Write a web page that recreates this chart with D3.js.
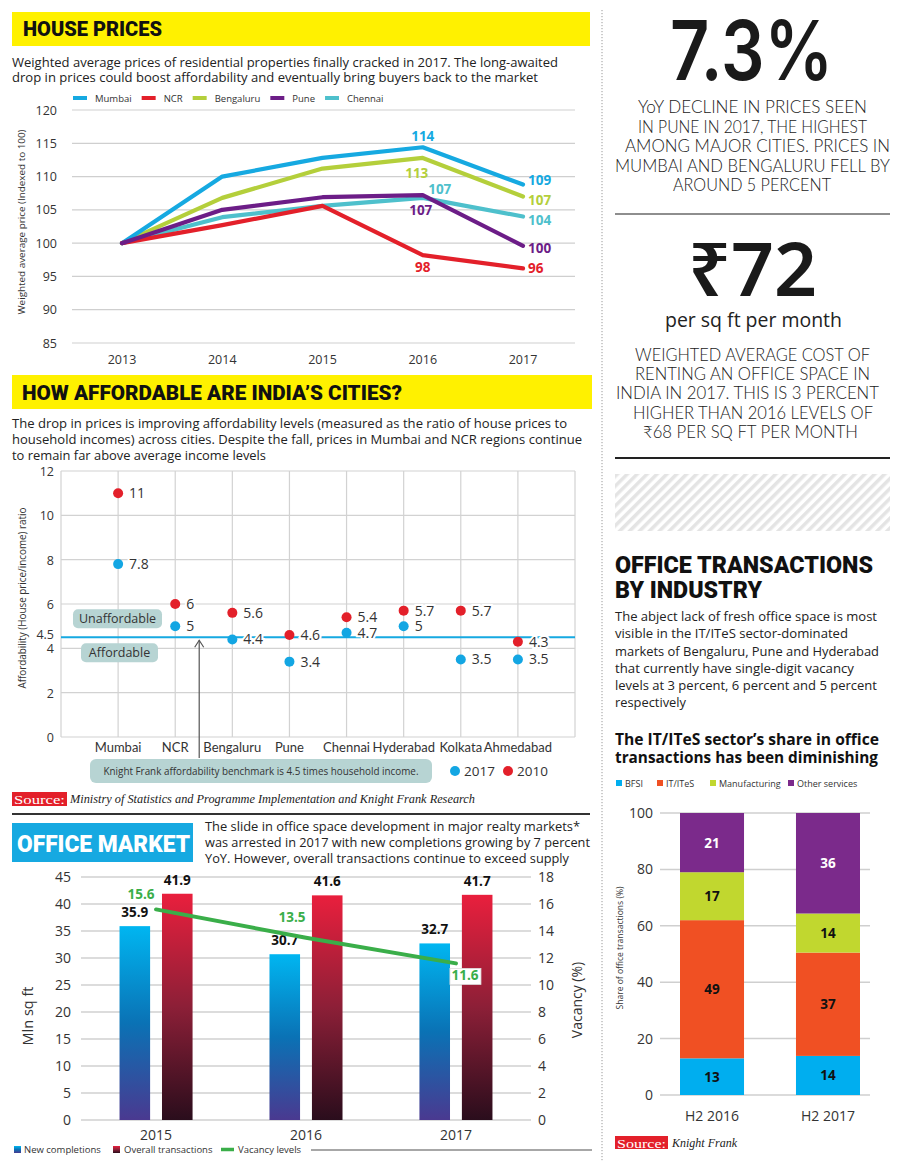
<!DOCTYPE html>
<html>
<head>
<meta charset="utf-8">
<script src="https://cdn.jsdelivr.net/npm/d3@7"></script>
<style>
  body { margin: 0; background: #fff; }
  svg { display: block; }
</style>
</head>
<body>
<div id="chart"></div>
<script>
// ---- house prices (indexed to 100) ----
const years = ["2013", "2014", "2015", "2016", "2017"];
const mumbai = [100, 110, 112.8, 114.4, 108.8];
const ncr = [100, 102.7, 105.6, 98.2, 96.2];
const bengaluru = [100, 106.8, 111.2, 112.8, 107];
const pune = [100, 105, 106.9, 107.2, 99.6];
const chennai = [100, 103.9, 105.6, 106.8, 104];

// ---- affordability ratio ----
const cities = ["Mumbai", "NCR", "Bengaluru", "Pune", "Chennai", "Hyderabad", "Kolkata", "Ahmedabad"];
const ratio2017 = [7.8, 5, 4.4, 3.4, 4.7, 5, 3.5, 3.5];
const ratio2010 = [11, 6, 5.6, 4.6, 5.4, 5.7, 5.7, 4.3];
const benchmark = 4.5;

// ---- office market ----
const officeYears = ["2015", "2016", "2017"];
const newCompletions = [35.9, 30.7, 32.7];
const overallTransactions = [41.9, 41.6, 41.7];
const vacancy = [15.6, 13.5, 11.6];

// ---- office transactions by industry (%) ----
const periods = ["H2 2016", "H2 2017"];
const industries = ["BFSI", "IT/ITeS", "Manufacturing", "Other services"];
const bfsi = [13, 14];
const itites = [49, 37];
const manufacturing = [17, 14];
const otherServices = [21, 36];

const BODY = "'Open Sans', 'Noto Sans', 'DejaVu Sans', sans-serif";
const HEAD = "Roboto, 'Open Sans', sans-serif";
const LIGHT = "Lato, 'Open Sans', 'Noto Sans', sans-serif";
const SERIF = "'Liberation Serif', 'DejaVu Serif', serif";
const YELLOW = "#fff100";

const svg = d3.select("#chart").append("svg")
    .attr("width", 900)
    .attr("height", 1171);

svg.append("rect").attr("width", 900).attr("height", 1171).attr("fill", "#fff");

// small helper for text
function txt(g, x, y, s, o = {}) {
    const t = g.append("text")
        .attr("x", x).attr("y", y)
        .attr("font-family", o.font || BODY)
        .attr("font-size", o.size || 13)
        .attr("fill", o.fill || "#222")
        .attr("text-anchor", o.anchor || "start")
        .text(s);
    if (o.weight) t.attr("font-weight", o.weight);
    if (o.style) t.attr("font-style", o.style);
    if (o.len) t.attr("textLength", o.len).attr("lengthAdjust", "spacingAndGlyphs");
    if (o.rotate) t.attr("transform", `rotate(-90,${x},${y})`);
    return t;
}
// paragraph line: [text, x1, x2, baseline]
function para(lines, o) {
    lines.forEach(([s, x1, x2, y]) => txt(svg, x1, y, s, Object.assign({len: x2 - x1}, o)));
}

const defs = svg.append("defs");
function vgrad(id, stops) {
    const g = defs.append("linearGradient").attr("id", id)
        .attr("x1", 0).attr("y1", 0).attr("x2", 0).attr("y2", 1);
    stops.forEach(([o, c]) => g.append("stop").attr("offset", o).attr("stop-color", c));
}
vgrad("blueGrad", [[0, "#00b6f1"], [0.5, "#0a72b5"], [1, "#4a3990"]]);
vgrad("redGrad", [[0, "#e91f3d"], [0.5, "#8c1f37"], [1, "#2a0d1c"]]);

const hatch = defs.append("pattern").attr("id", "hatch")
    .attr("patternUnits", "userSpaceOnUse").attr("width", 7).attr("height", 7)
    .attr("patternTransform", "rotate(45)");
hatch.append("rect").attr("width", 3.5).attr("height", 7).attr("fill", "#e4e4e4");

// ===================== HOUSE PRICES =====================
svg.append("rect").attr("x", 12).attr("y", 12).attr("width", 578).attr("height", 34).attr("fill", YELLOW);
txt(svg, 23, 36, "HOUSE PRICES", {font: HEAD, size: 21, weight: 900, fill: "#111", len: 139});

para([
    ["Weighted average prices of residential properties finally cracked in 2017. The long-awaited", 12, 558, 67],
    ["drop in prices could boost affordability and eventually bring buyers back to the market", 12, 538, 82]
], {size: 13, fill: "#222"});

const hx = d3.scalePoint().domain(years).range([122, 523]);
const hy = d3.scaleLinear().domain([85, 120]).range([343, 110]);

const hp = svg.append("g");
hp.append("g").selectAll("line").data(hy.ticks(7)).join("line")
    .attr("x1", 72).attr("x2", 575)
    .attr("y1", d => hy(d)).attr("y2", d => hy(d))
    .attr("stroke", "#cfcfcf").attr("stroke-width", 1.2);
hp.append("g").selectAll("text").data(hy.ticks(7)).join("text")
    .attr("x", 57).attr("y", d => hy(d) + 4.5)
    .attr("text-anchor", "end").attr("font-family", BODY).attr("font-size", 12.5).attr("fill", "#333")
    .text(d => d);
hp.append("g").selectAll("text").data(years).join("text")
    .attr("x", d => hx(d)).attr("y", 364)
    .attr("text-anchor", "middle").attr("font-family", BODY).attr("font-size", 12.5).attr("fill", "#333")
    .text(d => d);
txt(hp, 25, 222, "Weighted average price (Indexed to 100)", {size: 9.5, fill: "#333", anchor: "middle", rotate: true, len: 185});

const series = [
    {name: "Mumbai", color: "#16a9e1", values: mumbai,
        labels: [[3, 0, -6, "middle"], [4, 5, 0, "start"]]},
    {name: "NCR", color: "#e3202a", values: ncr,
        labels: [[3, 0, 17, "middle"], [4, 5, 5, "start"]]},
    {name: "Bengaluru", color: "#b4cf3b", values: bengaluru,
        labels: [[3, -6, 20, "middle"], [4, 5, 8, "start"]]},
    {name: "Pune", color: "#6c1d87", values: pune,
        labels: [[3, -2, 20, "middle"], [4, 5, 7, "start"]]},
    {name: "Chennai", color: "#4ec0cc", values: chennai,
        labels: [[3, 17, -4, "middle"], [4, 5, 8, "start"]]}
];
const drawOrder = ["Chennai", "Bengaluru", "Mumbai", "NCR", "Pune"];
const line = d3.line().x((d, i) => hx(years[i])).y(d => hy(d));
drawOrder.forEach(n => {
    const s = series.find(d => d.name === n);
    hp.append("path").attr("d", line(s.values))
        .attr("fill", "none").attr("stroke", s.color).attr("stroke-width", 4.2)
        .attr("stroke-linejoin", "round").attr("stroke-linecap", "round");
});
series.forEach(s => {
    s.labels.forEach(([i, dx, dy, anchor]) => {
        txt(hp, hx(years[i]) + dx, hy(s.values[i]) + dy, d3.format(".0f")(s.values[i]),
            {size: 13.5, weight: 700, fill: s.color, anchor: anchor});
    });
});

// legend
let lx = 73;
series.forEach(s => {
    hp.append("line").attr("x1", lx).attr("x2", lx + 14).attr("y1", 98).attr("y2", 98)
        .attr("stroke", s.color).attr("stroke-width", 4);
    const t = txt(hp, lx + 22, 101.5, s.name, {size: 9.5, fill: "#333"});
    lx += 22 + t.node().getComputedTextLength() + 10;
});

// ===================== AFFORDABILITY =====================
svg.append("rect").attr("x", 12).attr("y", 375).attr("width", 580).attr("height", 34).attr("fill", YELLOW);
txt(svg, 22, 400, "HOW AFFORDABLE ARE INDIA\u2019S CITIES?", {font: HEAD, size: 21, weight: 900, fill: "#111", len: 380});

para([
    ["The drop in prices is improving affordability levels (measured as the ratio of house prices to", 12, 567, 428],
    ["household incomes) across cities. Despite the fall, prices in Mumbai and NCR regions continue", 12, 582, 444],
    ["to remain far above average income levels", 12, 266, 460]
], {size: 13, fill: "#222"});

const ax = d3.scalePoint().domain(cities).range([61, 575]).padding(1);
const ay = d3.scaleLinear().domain([0, 12]).range([737, 471]);
const af = svg.append("g");

af.append("g").selectAll("line").data(ay.ticks(6)).join("line")
    .attr("x1", 61).attr("x2", 575)
    .attr("y1", d => ay(d)).attr("y2", d => ay(d))
    .attr("stroke", "#d2d2d2").attr("stroke-width", 1.2);
af.append("g").selectAll("line").data([61, ...cities.map(c => ax(c)), 575]).join("line")
    .attr("x1", d => d).attr("x2", d => d)
    .attr("y1", ay(12)).attr("y2", ay(0))
    .attr("stroke", "#d2d2d2").attr("stroke-width", 1.2);
af.append("g").selectAll("text").data([...ay.ticks(6), benchmark]).join("text")
    .attr("x", 54).attr("y", d => ay(d) + (d === benchmark ? 2 : 5))
    .attr("text-anchor", "end").attr("font-family", BODY).attr("font-size", 12.5).attr("fill", "#333")
    .text(d => d);
af.append("g").selectAll("text").data(cities).join("text")
    .attr("x", d => ax(d)).attr("y", 752)
    .attr("text-anchor", "middle").attr("font-family", LIGHT).attr("font-size", 13).attr("fill", "#333")
    .text(d => d);
txt(af, 26, 598, "Affordability (House price/income) ratio", {size: 10, fill: "#333", anchor: "middle", rotate: true, len: 181});

// benchmark line
af.append("line").attr("x1", 61).attr("x2", 575)
    .attr("y1", ay(benchmark)).attr("y2", ay(benchmark))
    .attr("stroke", "#16a9e1").attr("stroke-width", 2.2);

const boxFill = "#b7d4d3";
af.append("rect").attr("x", 73).attr("y", ay(benchmark) - 28).attr("width", 89).attr("height", 19).attr("rx", 5).attr("fill", boxFill);
txt(af, 117.5, ay(benchmark) - 14, "Unaffordable", {size: 12.5, fill: "#333", anchor: "middle"});
af.append("rect").attr("x", 81).attr("y", ay(benchmark) + 6).attr("width", 77).attr("height", 19).attr("rx", 5).attr("fill", boxFill);
txt(af, 119.5, ay(benchmark) + 20, "Affordable", {size: 12.5, fill: "#333", anchor: "middle"});

// arrow to benchmark
const arrowX = ax("NCR") + ax.step() * 0.42;
af.append("line").attr("x1", arrowX).attr("x2", arrowX)
    .attr("y1", 758).attr("y2", ay(benchmark) + 3)
    .attr("stroke", "#555").attr("stroke-width", 1.2);
af.append("path")
    .attr("d", `M${arrowX - 4.5},${ay(benchmark) + 10} L${arrowX},${ay(benchmark) + 3} L${arrowX + 4.5},${ay(benchmark) + 10}`)
    .attr("fill", "none").attr("stroke", "#555").attr("stroke-width", 1.2);

const dotSeries = [
    {name: "2017", color: "#13a6e3", values: ratio2017},
    {name: "2010", color: "#e3202a", values: ratio2010}
];
dotSeries.forEach(s => {
    af.append("g").selectAll("circle").data(s.values).join("circle")
        .attr("cx", (d, i) => ax(cities[i])).attr("cy", d => ay(d)).attr("r", 5)
        .attr("fill", s.color);
});
dotSeries.forEach(s => {
    af.append("g").selectAll("text").data(s.values).join("text")
        .attr("x", (d, i) => ax(cities[i]) + 11).attr("y", d => ay(d) + 5)
        .attr("font-family", BODY).attr("font-size", 14).attr("fill", "#333")
        .attr("stroke", "#fff").attr("stroke-width", 4).attr("paint-order", "stroke")
        .text(d => d);
});

// benchmark note box
af.append("rect").attr("x", 90).attr("y", 759).attr("width", 342).attr("height", 24).attr("rx", 6).attr("fill", boxFill);
txt(af, 261, 775, "Knight Frank affordability benchmark is 4.5 times household income.", {size: 11, fill: "#333", anchor: "middle", len: 315});

// dot legend
let dl = 455;
dotSeries.forEach(s => {
    af.append("circle").attr("cx", dl).attr("cy", 771).attr("r", 5).attr("fill", s.color);
    txt(af, dl + 9, 776, s.name, {size: 13.5, fill: "#333"});
    dl += 53;
});

// source
svg.append("rect").attr("x", 12).attr("y", 792).attr("width", 55).attr("height", 14).attr("fill", "#e3202a");
txt(svg, 14, 804, "Source:", {font: SERIF, size: 13.5, fill: "#fff", len: 51});
txt(svg, 70, 803, "Ministry of Statistics and Programme Implementation and Knight Frank Research",
    {font: SERIF, size: 11.5, style: "italic", fill: "#222", len: 405});

svg.append("line").attr("x1", 12).attr("x2", 590).attr("y1", 814).attr("y2", 814)
    .attr("stroke", "#333").attr("stroke-width", 2);

// ===================== OFFICE MARKET =====================
svg.append("rect").attr("x", 12).attr("y", 823).attr("width", 181).attr("height", 39).attr("fill", "#16a9e1");
txt(svg, 17, 852, "OFFICE MARKET", {font: HEAD, size: 24, weight: 900, fill: "#fff", len: 173});
para([
    ["The slide in office space development in major realty markets*", 205, 580, 831],
    ["was arrested in 2017 with new completions growing by 7 percent", 205, 590, 847],
    ["YoY. However, overall transactions continue to exceed supply", 205, 569, 863]
], {size: 13, fill: "#222"});

const ox0 = d3.scaleBand().domain(officeYears).range([81, 531]).paddingInner(0.513).paddingOuter(0.257);
const ox1 = d3.scaleBand().domain(["new", "overall"]).range([0, ox0.bandwidth()]).paddingInner(0.28);
const oy = d3.scaleLinear().domain([0, 45]).range([1120, 877]);
const oyR = d3.scaleLinear().domain([0, 18]).range([1120, 877]);
const om = svg.append("g");

om.append("g").selectAll("line").data(oy.ticks(9)).join("line")
    .attr("x1", 81).attr("x2", 531)
    .attr("y1", d => oy(d)).attr("y2", d => oy(d))
    .attr("stroke", "#d0d0d0").attr("stroke-width", 1.5);
om.append("g").selectAll("text").data(oy.ticks(9)).join("text")
    .attr("x", 71).attr("y", d => oy(d) + 5)
    .attr("text-anchor", "end").attr("font-family", BODY).attr("font-size", 14).attr("fill", "#333")
    .text(d => d);
om.append("g").selectAll("text").data(oyR.ticks(9)).join("text")
    .attr("x", 538).attr("y", d => oyR(d) + 5)
    .attr("font-family", BODY).attr("font-size", 14).attr("fill", "#333")
    .text(d => d);
om.append("g").selectAll("text").data(officeYears).join("text")
    .attr("x", d => ox0(d) + ox0.bandwidth() / 2).attr("y", 1140)
    .attr("text-anchor", "middle").attr("font-family", BODY).attr("font-size", 14).attr("fill", "#333")
    .text(d => d);
txt(om, 33, 1016, "Mln sq ft", {size: 14.5, fill: "#333", anchor: "middle", rotate: true});
txt(om, 582, 1000, "Vacancy (%)", {size: 14, fill: "#333", anchor: "middle", rotate: true});

const barSeries = [
    {key: "new", values: newCompletions, fill: "url(#blueGrad)"},
    {key: "overall", values: overallTransactions, fill: "url(#redGrad)"}
];
barSeries.forEach(s => {
    om.append("g").selectAll("rect").data(s.values).join("rect")
        .attr("x", (d, i) => ox0(officeYears[i]) + ox1(s.key))
        .attr("y", d => oy(d))
        .attr("width", ox1.bandwidth())
        .attr("height", d => oy(0) - oy(d))
        .attr("fill", s.fill);
    om.append("g").selectAll("text").data(s.values).join("text")
        .attr("x", (d, i) => ox0(officeYears[i]) + ox1(s.key) + ox1.bandwidth() / 2)
        .attr("y", d => oy(d) - 9)
        .attr("text-anchor", "middle").attr("font-family", BODY).attr("font-size", 13.5)
        .attr("font-weight", 700).attr("fill", "#111")
        .text(d => d);
});

const vx = d => ox0(d) + ox0.bandwidth() / 2;
om.append("path")
    .attr("d", d3.line().x((d, i) => vx(officeYears[i])).y(d => oyR(d))(vacancy))
    .attr("fill", "none").attr("stroke", "#3aae49").attr("stroke-width", 4).attr("stroke-linecap", "round");
const vLabelOffsets = [[-15, -10], [-14, -16], [9, 17]];
vacancy.forEach((v, i) => {
    const [dx, dy] = vLabelOffsets[i];
    const x = vx(officeYears[i]) + dx, y = oyR(v) + dy;
    if (i === vacancy.length - 1) {
        om.append("rect").attr("x", x - 15).attr("y", y - 12).attr("width", 31).attr("height", 16)
            .attr("fill", "#fff").attr("stroke", "#ddd").attr("stroke-width", 0.8);
    }
    txt(om, x, y, v, {size: 13.5, weight: 700, fill: "#3aae49", anchor: "middle"});
});

// legend
om.append("rect").attr("x", 14).attr("y", 1146).attr("width", 7).attr("height", 7).attr("fill", "url(#blueGrad)");
txt(om, 24, 1153, "New completions", {size: 9.5, fill: "#333"});
om.append("rect").attr("x", 113).attr("y", 1146).attr("width", 7).attr("height", 7).attr("fill", "url(#redGrad)");
txt(om, 124, 1153, "Overall transactions", {size: 9.5, fill: "#333"});
om.append("line").attr("x1", 221).attr("x2", 234).attr("y1", 1149.5).attr("y2", 1149.5)
    .attr("stroke", "#3aae49").attr("stroke-width", 3.5);
txt(om, 238, 1153, "Vacancy levels", {size: 9.5, fill: "#333"});
om.append("line").attr("x1", 311).attr("x2", 592).attr("y1", 1150).attr("y2", 1150)
    .attr("stroke", "#8a8a8a").attr("stroke-width", 1.5);

// ===================== RIGHT COLUMN =====================
svg.append("line").attr("x1", 602).attr("x2", 602).attr("y1", 10).attr("y2", 1162)
    .attr("stroke", "#9a9a9a").attr("stroke-width", 1).attr("stroke-dasharray", "1.2,1.8");

txt(svg, 670, 80, "7.3%", {font: "Inter, " + BODY, size: 82, weight: 600, fill: "#1a1a1a", len: 163});
para([
    ["YoY DECLINE IN PRICES SEEN", 638, 867, 113],
    ["IN PUNE IN 2017, THE HIGHEST", 638, 867, 133],
    ["AMONG MAJOR CITIES. PRICES IN", 625, 890, 152],
    ["MUMBAI AND BENGALURU FELL BY", 615, 890, 172],
    ["AROUND 5 PERCENT", 673, 831, 191]
], {font: LIGHT, size: 17, weight: 300, fill: "#222"});
svg.append("line").attr("x1", 615).attr("x2", 890).attr("y1", 214).attr("y2", 214)
    .attr("stroke", "#8e8e8e").attr("stroke-width", 2);

txt(svg, 688, 296, "\u20B972", {font: "'Noto Sans', 'DejaVu Sans', sans-serif", size: 74, weight: 600, fill: "#1a1a1a", len: 129});
txt(svg, 665, 327, "per sq ft per month", {size: 20, fill: "#222", len: 177});
para([
    ["WEIGHTED AVERAGE COST OF", 635, 870, 361],
    ["RENTING AN OFFICE SPACE IN", 635, 870, 380],
    ["INDIA IN 2017. THIS IS 3 PERCENT", 616, 879, 399],
    ["HIGHER THAN 2016 LEVELS OF", 633, 873, 419],
    ["\u20B968 PER SQ FT PER MONTH", 643, 858, 438]
], {font: LIGHT, size: 17, weight: 300, fill: "#222"});
svg.append("line").attr("x1", 615).attr("x2", 890).attr("y1", 458).attr("y2", 458)
    .attr("stroke", "#222").attr("stroke-width", 2);

svg.append("rect").attr("x", 615).attr("y", 474).attr("width", 275).attr("height", 57).attr("fill", "url(#hatch)");

txt(svg, 615, 573, "OFFICE TRANSACTIONS", {font: HEAD, size: 24, weight: 900, fill: "#111", len: 258});
txt(svg, 615, 598, "BY INDUSTRY", {font: HEAD, size: 24, weight: 900, fill: "#111", len: 147});
para([
    ["The abject lack of fresh office space is most", 615, 877, 621],
    ["visible in the IT/ITeS sector-dominated", 615, 848, 638],
    ["markets of Bengaluru, Pune and Hyderabad", 615, 879, 656],
    ["that currently have single-digit vacancy", 615, 854, 673],
    ["levels at 3 percent, 6 percent and 5 percent", 615, 877, 690],
    ["respectively", 615, 686, 707]
], {size: 13.5, fill: "#222"});
para([
    ["The IT/ITeS sector\u2019s share in office", 615, 879, 745],
    ["transactions has been diminishing", 615, 878, 763]
], {size: 16, weight: 700, fill: "#111"});

const indColors = {"BFSI": "#00aeef", "IT/ITeS": "#f05023", "Manufacturing": "#c1d72f", "Other services": "#7b2a8b"};
const legendX = [616, 657, 710, 788];
industries.forEach((k, i) => {
    svg.append("rect").attr("x", legendX[i]).attr("y", 780).attr("width", 6).attr("height", 6).attr("fill", indColors[k]);
    txt(svg, legendX[i] + 9, 786.5, k, {size: 9, fill: "#333"});
});

const rows = periods.map((p, i) => ({
    period: p, "BFSI": bfsi[i], "IT/ITeS": itites[i], "Manufacturing": manufacturing[i], "Other services": otherServices[i]
}));
const stacked = d3.stack().keys(industries).offset(d3.stackOffsetExpand)(rows);
const sx = d3.scaleBand().domain(periods).range([664, 876]).paddingInner(0.448).paddingOuter(0.138);
const sy = d3.scaleLinear().domain([0, 1]).range([1095, 813]);
const st = svg.append("g");

st.append("g").selectAll("line").data(sy.ticks(5)).join("line")
    .attr("x1", 660).attr("x2", 870)
    .attr("y1", d => sy(d)).attr("y2", d => sy(d))
    .attr("stroke", "#cfcfcf").attr("stroke-width", 1.5);
st.append("g").selectAll("text").data(sy.ticks(5)).join("text")
    .attr("x", 653).attr("y", d => sy(d) + 5)
    .attr("text-anchor", "end").attr("font-family", BODY).attr("font-size", 14).attr("fill", "#333")
    .text(d => d3.format(".0f")(d * 100));
st.append("g").selectAll("text").data(periods).join("text")
    .attr("x", d => sx(d) + sx.bandwidth() / 2).attr("y", 1121)
    .attr("text-anchor", "middle").attr("font-family", BODY).attr("font-size", 14).attr("fill", "#333")
    .text(d => d);
txt(st, 623, 948, "Share of office  transactions (%)", {size: 9, fill: "#333", anchor: "middle", rotate: true, len: 123});

stacked.forEach(layer => {
    const g = st.append("g");
    g.selectAll("rect").data(layer).join("rect")
        .attr("x", d => sx(d.data.period))
        .attr("y", d => sy(d[1]))
        .attr("width", sx.bandwidth())
        .attr("height", d => sy(d[0]) - sy(d[1]))
        .attr("fill", indColors[layer.key]);
    g.selectAll("text").data(layer).join("text")
        .attr("x", d => sx(d.data.period) + sx.bandwidth() / 2)
        .attr("y", d => (sy(d[0]) + sy(d[1])) / 2 + 5)
        .attr("text-anchor", "middle").attr("font-family", BODY).attr("font-size", 13.5)
        .attr("font-weight", 700)
        .attr("fill", layer.key === "Other services" ? "#fff" : "#111")
        .text(d => d.data[layer.key]);
});

svg.append("rect").attr("x", 615).attr("y", 1136).attr("width", 53).attr("height", 13).attr("fill", "#e3202a");
txt(svg, 617, 1147.5, "Source:", {font: SERIF, size: 13, fill: "#fff", len: 49});
txt(svg, 672, 1147, "Knight Frank", {font: SERIF, size: 11.5, style: "italic", fill: "#222", len: 65});
</script>
</body>
</html>
